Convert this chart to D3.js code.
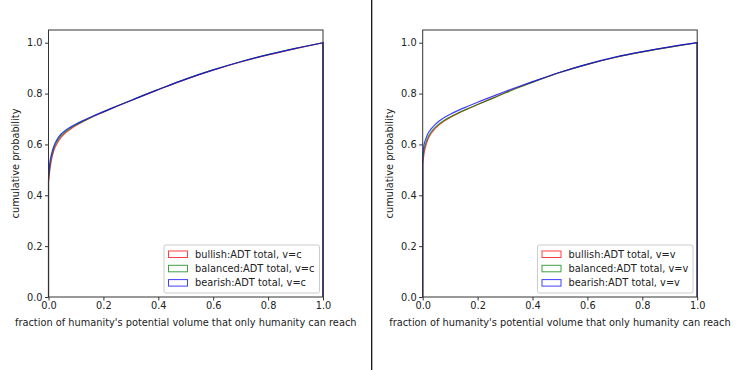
<!DOCTYPE html>
<html><head><meta charset="utf-8">
<script src="https://cdn.jsdelivr.net/npm/d3@7"></script>
<style>body{margin:0;background:#fff;} svg{display:block;font-family:"DejaVu Sans",sans-serif;}</style>
</head><body>
<svg id="c" width="745" height="370"></svg>
<script>
// ---- data ----
const xKnots = [0, 0.005, 0.01, 0.02, 0.03, 0.045, 0.06, 0.08, 0.1, 0.13, 0.16, 0.2, 0.25, 0.3, 0.35, 0.4, 0.5, 0.6, 0.7, 0.8, 0.9, 1.0];
// left panel (v=c)
const bullishC  = [0.45, 0.50, 0.535, 0.578, 0.602, 0.627, 0.644, 0.660, 0.674, 0.692, 0.708, 0.727, 0.750, 0.772, 0.794, 0.815, 0.856, 0.892, 0.924, 0.952, 0.977, 1.0];
const balancedC = [0.46, 0.515, 0.547, 0.587, 0.610, 0.634, 0.649, 0.664, 0.677, 0.693, 0.709, 0.728, 0.751, 0.773, 0.795, 0.816, 0.857, 0.893, 0.925, 0.953, 0.978, 1.0];
const bearishC  = [0.47, 0.53, 0.558, 0.595, 0.617, 0.640, 0.654, 0.668, 0.680, 0.696, 0.711, 0.729, 0.751, 0.773, 0.795, 0.816, 0.857, 0.893, 0.925, 0.953, 0.978, 1.0];
// right panel (v=v)
const bullishV  = [0.52, 0.565, 0.590, 0.622, 0.642, 0.662, 0.677, 0.693, 0.706, 0.723, 0.738, 0.757, 0.780, 0.803, 0.825, 0.845, 0.883, 0.915, 0.942, 0.964, 0.983, 1.0];
const balancedV = [0.54, 0.580, 0.600, 0.630, 0.648, 0.667, 0.681, 0.696, 0.708, 0.724, 0.739, 0.757, 0.779, 0.802, 0.824, 0.844, 0.883, 0.915, 0.942, 0.964, 0.983, 1.0];
const bearishV  = [0.56, 0.600, 0.618, 0.645, 0.660, 0.678, 0.692, 0.707, 0.719, 0.734, 0.748, 0.766, 0.787, 0.808, 0.828, 0.847, 0.884, 0.916, 0.943, 0.965, 0.984, 1.0];
const tickVals = [0, 0.2, 0.4, 0.6, 0.8, 1.0];
const tickLabels = ["0.0", "0.2", "0.4", "0.6", "0.8", "1.0"];
const seriesNames = ["bullish", "balanced", "bearish"];
const seriesColors = ["#ff0000", "#008000", "#0000ff"];
const xLabel = "fraction of humanity's potential volume that only humanity can reach";
const yLabel = "cumulative probability";

const panels = [
  {left: 48.5, suffix: "v=c", data: [bullishC, balancedC, bearishC], legX: 164},
  {left: 422.7, suffix: "v=v", data: [bullishV, balancedV, bearishV], legX: 537.5}
];

const svg = d3.select("#c");
const FS = 9.8;
const plotTop = 30, plotBottom = 297, W = 274.5;

// divider
svg.append("line").attr("x1", 371.7).attr("x2", 371.7).attr("y1", 0).attr("y2", 370)
  .attr("stroke", "#000").attr("stroke-width", 1.2);

panels.forEach((p, pi) => {
  const x = d3.scaleLinear().domain([0, 1]).range([p.left, p.left + W]);
  const y = d3.scaleLinear().domain([0, 1.05]).range([plotBottom, plotTop]);
  const g = svg.append("g");
  const clipId = "clip" + pi;
  svg.append("clipPath").attr("id", clipId).append("rect")
    .attr("x", p.left - 1).attr("y", plotTop).attr("width", W + 2).attr("height", plotBottom - plotTop + 1);

  const line = d3.line().x(d => x(d[0])).y(d => y(d[1])).curve(d3.curveMonotoneX);
  p.data.forEach((vals, si) => {
    const pts = xKnots.map((k, i) => [k, vals[i]]);
    const path = "M" + x(0) + "," + y(0) + "L" + line(pts).slice(1) + "L" + x(1) + "," + y(0);
    g.append("path").attr("d", path).attr("fill", "none")
      .attr("stroke", seriesColors[si]).attr("stroke-width", 1.2).attr("stroke-opacity", 0.75)
      .attr("clip-path", `url(#${clipId})`);
  });

  // axes
  const xAxis = d3.axisBottom(x).tickValues(tickVals).tickFormat((d, i) => tickLabels[i]).tickSize(3.5).tickPadding(2);
  const yAxis = d3.axisLeft(y).tickValues(tickVals).tickFormat((d, i) => tickLabels[i]).tickSize(3.5).tickPadding(2.5);
  const gx = svg.append("g").attr("transform", `translate(0,${plotBottom})`).call(xAxis);
  const gy = svg.append("g").attr("transform", `translate(${p.left},0)`).call(yAxis);
  [gx, gy].forEach(a => {
    a.select(".domain").remove();
    a.selectAll("line").attr("stroke", "#333");
    a.selectAll("text").attr("font-size", FS).attr("fill", "#222").attr("font-family", "DejaVu Sans");
  });
  // frame
  svg.append("rect").attr("x", p.left).attr("y", plotTop).attr("width", W).attr("height", plotBottom - plotTop)
    .attr("fill", "none").attr("stroke", "#333").attr("stroke-width", 1);

  svg.append("text").attr("x", p.left + W / 2).attr("y", 326).attr("text-anchor", "middle")
    .attr("font-size", FS).attr("fill", "#222").text(xLabel);
  svg.append("text").attr("transform", `translate(${p.left - 30},${(plotTop + plotBottom) / 2}) rotate(-90)`)
    .attr("text-anchor", "middle").attr("font-size", FS).attr("fill", "#222").text(yLabel);

  // legend
  const lg = svg.append("g").attr("transform", `translate(${p.legX},245)`);
  lg.append("rect").attr("x", 0).attr("y", 0).attr("width", 155.5).attr("height", 48).attr("rx", 2)
    .attr("fill", "#fff").attr("fill-opacity", 0.8).attr("stroke", "#ccc");
  seriesNames.forEach((n, si) => {
    const cy = 9 + si * 14.3;
    lg.append("rect").attr("x", 4.5).attr("y", cy - 3).attr("width", 19).attr("height", 6.5)
      .attr("fill", "none").attr("stroke", seriesColors[si]).attr("stroke-opacity", 0.75).attr("stroke-width", 1);
    lg.append("text").attr("x", 31).attr("y", cy + 3.5).attr("font-size", FS).attr("fill", "#222")
      .text(`${n}:ADT total, ${p.suffix}`);
  });
});
</script>
</body></html>
